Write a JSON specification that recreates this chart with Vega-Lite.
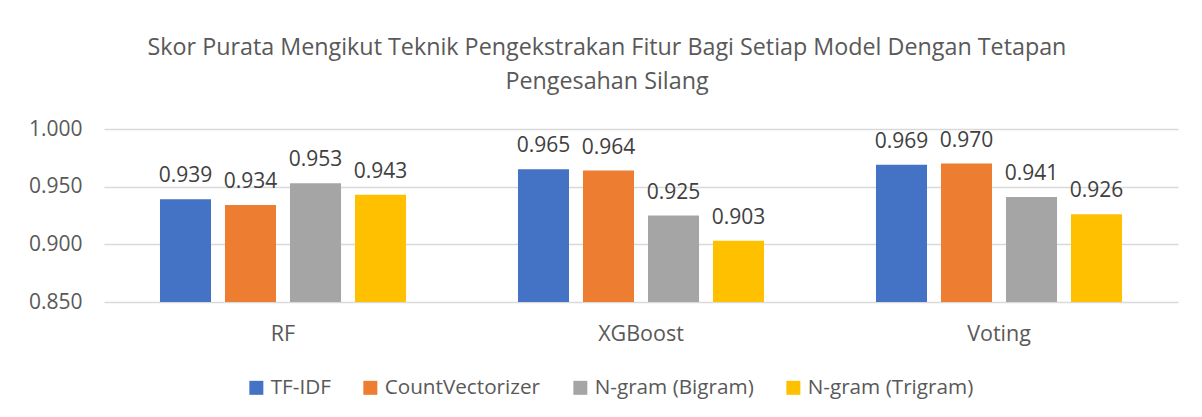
{
  "$schema": "https://vega.github.io/schema/vega-lite/v6.json",
  "autosize": "none",
  "width": 1074,
  "height": 173,
  "padding": {"left": 104, "top": 129, "right": 24, "bottom": 115},
  "background": "white",
  "title": {
    "text": ["Skor Purata Mengikut Teknik Pengekstrakan Fitur Bagi Setiap Model Dengan Tetapan", "Pengesahan Silang"],
    "font": "Open Sans",
    "fontSize": 23.3,
    "fontWeight": "normal",
    "color": "#595959",
    "lineHeight": 34,
    "anchor": "middle",
    "frame": "group",
    "dx": -34,
    "offset": 24
  },
  "data": {
    "values": [
      {"model": "RF", "method": "TF-IDF", "score": 0.939},
      {"model": "RF", "method": "CountVectorizer", "score": 0.934},
      {"model": "RF", "method": "N-gram (Bigram)", "score": 0.953},
      {"model": "RF", "method": "N-gram (Trigram)", "score": 0.943},
      {"model": "XGBoost", "method": "TF-IDF", "score": 0.965},
      {"model": "XGBoost", "method": "CountVectorizer", "score": 0.964},
      {"model": "XGBoost", "method": "N-gram (Bigram)", "score": 0.925},
      {"model": "XGBoost", "method": "N-gram (Trigram)", "score": 0.903},
      {"model": "Voting", "method": "TF-IDF", "score": 0.969},
      {"model": "Voting", "method": "CountVectorizer", "score": 0.970},
      {"model": "Voting", "method": "N-gram (Bigram)", "score": 0.941},
      {"model": "Voting", "method": "N-gram (Trigram)", "score": 0.926}
    ]
  },
  "encoding": {
    "x": {
      "field": "model",
      "type": "nominal",
      "sort": ["RF", "XGBoost", "Voting"],
      "scale": {"paddingInner": 0, "paddingOuter": 0},
      "axis": {
        "title": null,
        "domain": false,
        "ticks": false,
        "labelAngle": 0,
        "labelFont": "Open Sans",
        "labelFontSize": 21.5,
        "labelColor": "#595959",
        "labelPadding": 21
      }
    },
    "xOffset": {
      "field": "method",
      "type": "nominal",
      "sort": ["TF-IDF", "CountVectorizer", "N-gram (Bigram)", "N-gram (Trigram)"],
      "scale": {"paddingInner": 0.215, "paddingOuter": 0.861}
    },
    "y": {
      "field": "score",
      "type": "quantitative",
      "scale": {"domain": [0.85, 1.0], "zero": false, "nice": false},
      "axis": {
        "title": null,
        "domain": false,
        "ticks": false,
        "values": [0.85, 0.9, 0.95, 1.0],
        "format": ".3f",
        "labelFont": "Open Sans",
        "labelFontSize": 21,
        "labelColor": "#595959",
        "labelPadding": 22,
        "gridColor": "#d9d9d9",
        "gridWidth": 1.5
      }
    }
  },
  "layer": [
    {
      "mark": {"type": "bar", "clip": true},
      "encoding": {
        "y2": {"datum": 0.85},
        "color": {
          "field": "method",
          "type": "nominal",
          "sort": ["TF-IDF", "CountVectorizer", "N-gram (Bigram)", "N-gram (Trigram)"],
          "scale": {
            "domain": ["TF-IDF", "CountVectorizer", "N-gram (Bigram)", "N-gram (Trigram)"],
            "range": ["#4472C4", "#ED7D31", "#A5A5A5", "#FFC000"]
          },
          "legend": {
            "title": null,
            "orient": "none",
            "direction": "horizontal",
            "legendX": 142,
            "legendY": 248,
            "symbolType": "square",
            "symbolSize": 196,
            "symbolStrokeWidth": 0,
            "labelFont": "Open Sans",
            "labelFontSize": 20.7,
            "labelColor": "#595959",
            "labelOffset": 4,
            "labelLimit": 400,
            "columnPadding": 29
          }
        }
      }
    },
    {
      "mark": {
        "type": "text",
        "baseline": "alphabetic",
        "dy": -17,
        "font": "Open Sans",
        "fontSize": 21,
        "color": "#404040"
      },
      "encoding": {
        "text": {"field": "score", "type": "quantitative", "format": ".3f"}
      }
    }
  ],
  "config": {
    "view": {"stroke": null}
  }
}
